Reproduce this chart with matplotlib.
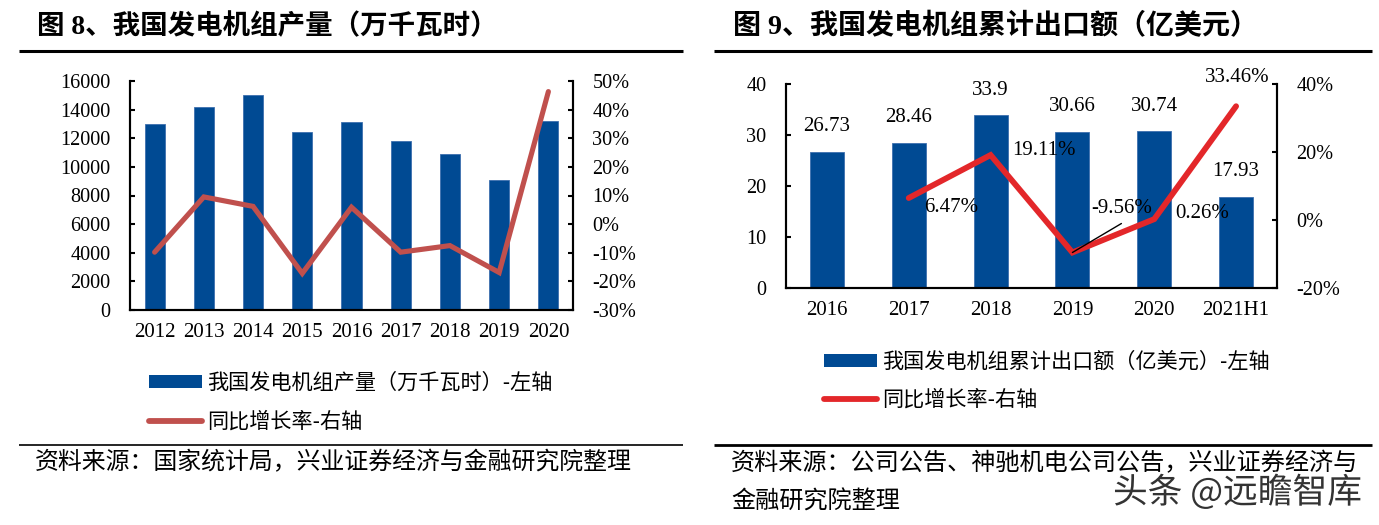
import matplotlib
matplotlib.use("Agg")
import matplotlib.pyplot as plt
import numpy as np
from matplotlib.lines import Line2D
from matplotlib.patches import Patch
import matplotlib.patheffects as pe

plt.rcParams['font.family'] = ['Noto Sans CJK SC', 'DejaVu Sans']

# ---------------- data ----------------
years1 = ["2012", "2013", "2014", "2015", "2016", "2017", "2018", "2019", "2020"]
output1 = [13020, 14170, 15050, 12440, 13110, 11800, 10890, 9060, 13230]
growth1 = [-9.8, 9.5, 6.2, -17.2, 5.9, -9.8, -7.5, -16.9, 46.3]

years2 = ["2016", "2017", "2018", "2019", "2020", "2021H1"]
export2 = [26.73, 28.46, 33.9, 30.66, 30.74, 17.93]
growth2 = [np.nan, 6.47, 19.11, -9.56, 0.26, 33.46]

title1 = "图 8、我国发电机组产量（万千瓦时）"
title2 = "图 9、我国发电机组累计出口额（亿美元）"
legend1 = ["我国发电机组产量（万千瓦时）-左轴", "同比增长率-右轴"]
legend2 = ["我国发电机组累计出口额（亿美元）-左轴", "同比增长率-右轴"]
source1 = "资料来源：国家统计局，兴业证券经济与金融研究院整理"
source2a = "资料来源：公司公告、神驰机电公司公告，兴业证券经济与"
source2b = "金融研究院整理"
watermark = "头条 @远瞻智库"

# ---------------- style ----------------
W, H = 1379, 525
BLUE = '#004A93'
RED1 = '#C0504D'
RED2 = '#E3272A'
SERIF = ['Liberation Serif', 'DejaVu Serif']
MIX = ['Liberation Serif', 'Noto Sans CJK SC']
CJK = ['Noto Sans CJK SC', 'DejaVu Sans']

def fx(x):
    return x / W

def fy(y):
    return 1 - y / H

fig = plt.figure(figsize=(W / 100, H / 100), dpi=100)

def hline(x0, x1, y, lw):
    fig.add_artist(Line2D([fx(x0), fx(x1)], [fy(y), fy(y)], transform=fig.transFigure,
                          color='black', lw=lw, solid_capstyle='butt'))

def style_axes(ax, ax2):
    for a in (ax, ax2):
        a.spines['top'].set_visible(False)
        for s in ['left', 'right', 'bottom']:
            a.spines[s].set_linewidth(1.5)
            a.spines[s].set_color('black')
    ax.tick_params(axis='y', direction='in', length=3.6, width=1.5, pad=14, labelsize=14.6)
    ax2.tick_params(axis='y', direction='in', length=3.6, width=1.5, pad=14, labelsize=14.6)
    ax.tick_params(axis='x', length=0, pad=9.5, labelsize=15)
    for lab in ax.get_xticklabels() + ax.get_yticklabels() + ax2.get_yticklabels():
        lab.set_fontfamily(SERIF)

# ---------------- left chart ----------------
ax1 = fig.add_axes([fx(130), fy(310), (573 - 130) / W, (310 - 81) / H])
x1 = np.arange(len(years1))
ax1.bar(x1, output1, width=0.41, color=BLUE, edgecolor='#3D6FAE', linewidth=0.6, zorder=2)
ax1.set_xlim(-0.5, len(years1) - 0.5)
ax1.set_ylim(0, 16000)
ax1.set_yticks(np.arange(0, 16001, 2000))
ax1.set_xticks(x1)
ax1.set_xticklabels(years1)
ax1b = ax1.twinx()
ax1b.plot(x1, growth1, color=RED1, lw=3.7, solid_capstyle='round', solid_joinstyle='miter', zorder=3)
ax1b.set_ylim(-30, 50)
ax1b.set_yticks(np.arange(-30, 51, 10))
ax1b.set_yticklabels([f"{v}%" for v in range(-30, 51, 10)])
style_axes(ax1, ax1b)

# ---------------- right chart ----------------
ax2 = fig.add_axes([fx(786), fy(288), (1277 - 786) / W, (288 - 84) / H])
x2 = np.arange(len(years2))
ax2.bar(x2, export2, width=0.415, color=BLUE, edgecolor='#3D6FAE', linewidth=0.6, zorder=2)
ax2.set_xlim(-0.5, len(years2) - 0.5)
ax2.set_ylim(0, 40)
ax2.set_yticks(np.arange(0, 41, 10))
ax2.set_xticks(x2)
ax2.set_xticklabels(years2)
ax2b = ax2.twinx()
ax2b.plot(x2, growth2, color=RED2, lw=4.2, solid_capstyle='round', solid_joinstyle='miter', zorder=3)
ax2b.set_ylim(-20, 40)
ax2b.set_yticks(np.arange(-20, 41, 20))
ax2b.set_yticklabels([f"{v}%" for v in range(-20, 41, 20)])
style_axes(ax2, ax2b)

# bar value labels
for xi, v in zip(x2, export2):
    ax2.annotate(f"{v:g}", (xi, v), xytext=(0, 18), textcoords='offset points',
                 ha='center', va='center', fontsize=15, family=SERIF)

# growth labels (offsets in pixels -> points)
pct_offsets = {1: (42, -9), 2: (53, 5), 3: (49, 44), 4: (48, 6), 5: (1, 29)}
for i, (dx, dy) in pct_offsets.items():
    v = growth2[i]
    ax2b.annotate(f"{v:.2f}%", (x2[i], v), xytext=(dx * 0.72, dy * 0.72), textcoords='offset points',
                  ha='center', va='center', fontsize=15, family=SERIF, zorder=5)
# leader line for -9.56%
ax2b.annotate("", (x2[3], growth2[3]), xytext=(49 * 0.72, 29 * 0.72), textcoords='offset points',
              arrowprops=dict(arrowstyle='-', color='black', lw=1.0, shrinkA=0, shrinkB=0), zorder=5)

# ---------------- titles, rules, legends, sources ----------------
fig.text(fx(37), fy(27), title1, fontsize=19.8, weight='bold', ha='left', va='center', family=MIX)
fig.text(fx(733), fy(27), title2, fontsize=20.2, weight='bold', ha='left', va='center', family=MIX)
hline(19, 683, 51, 2.2)
hline(714, 1372, 51, 2.2)
hline(19, 683, 445, 1.2)
hline(714, 1372, 445, 2.0)

def leg(handle, label, x, y):
    return fig.legend([handle], [label], loc='center left', bbox_to_anchor=(fx(x), fy(y)),
                      frameon=False, borderpad=0, borderaxespad=0, handlelength=2.5,
                      handleheight=0.5, handletextpad=0.25, prop={'family': CJK, 'size': 15.2})

leg(Patch(facecolor=BLUE), legend1[0], 149, 383)
leg(Line2D([], [], color=RED1, lw=4.2, solid_capstyle='round'), legend1[1], 149, 422)
leg(Patch(facecolor=BLUE), legend2[0], 824, 362)
leg(Line2D([], [], color=RED2, lw=4.2, solid_capstyle='round'), legend2[1], 824, 400)

fig.text(fx(35), fy(463), source1, fontsize=17.2, ha='left', va='center', family=CJK)
fig.text(fx(731), fy(463), source2a, fontsize=17.4, ha='left', va='center', family=CJK)
fig.text(fx(731), fy(502), source2b, fontsize=17.4, ha='left', va='center', family=CJK)

fig.text(fx(1113), fy(493), watermark, fontsize=25, ha='left', va='center', family=CJK,
         color='#333333', path_effects=[pe.withStroke(linewidth=3, foreground='white')])

fig.savefig("out.png", dpi=100)
